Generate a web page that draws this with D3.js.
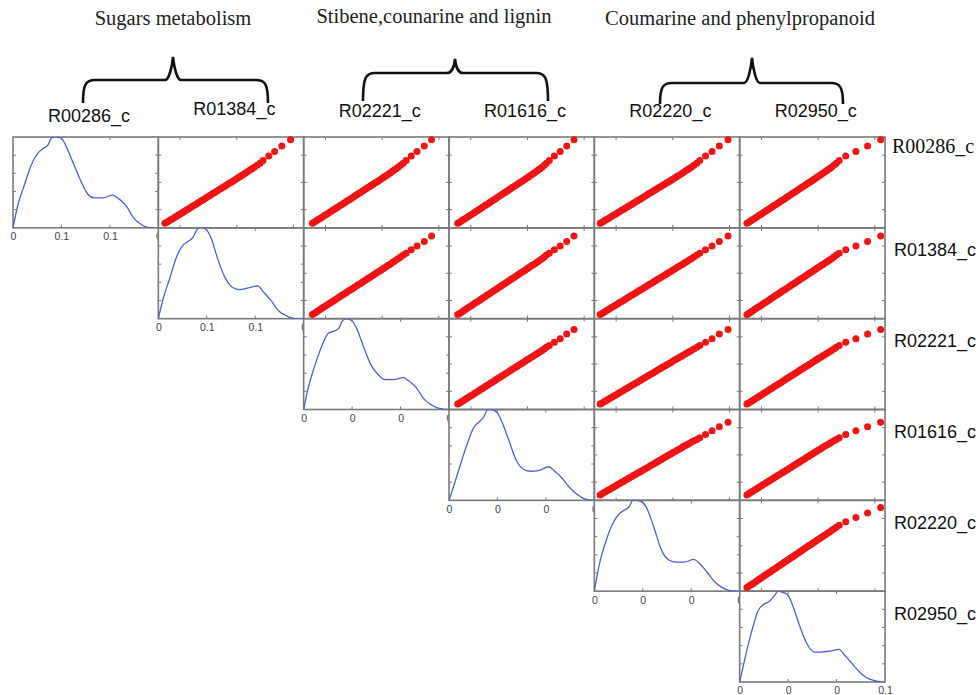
<!DOCTYPE html>
<html><head><meta charset="utf-8">
<script src="https://cdn.jsdelivr.net/npm/d3@7"></script>
<style>body{margin:0;background:#fff}svg{display:block}</style>
</head><body>
<svg id="c" width="979" height="695"></svg>
<script>
// ---------------- DATA ----------------
const variables = ["R00286_c","R01384_c","R02221_c","R01616_c","R02220_c","R02950_c"];
const groupNames = ["Sugars metabolism","Stibene,counarine and lignin","Coumarine and phenylpropanoid"];
const groupCols = [[0,1],[2,3],[4,5]];

// scaled expression values per variable (sample order shared)
const vR00286 = [0.05,0.062,0.074,0.088,0.1,0.113,0.127,0.14,0.152,0.166,0.18,0.193,0.205,0.219,0.232,0.246,0.258,0.271,0.285,0.298,0.31,0.324,0.338,0.35,0.363,0.377,0.39,0.402,0.416,0.43,0.443,0.455,0.469,0.482,0.495,0.508,0.521,0.535,0.548,0.562,0.575,0.59,0.604,0.62,0.636,0.65,0.668,0.69,0.71,0.74,0.79,0.84,0.9,0.97];
const vR01384 = [0.045,0.058,0.072,0.085,0.098,0.112,0.125,0.138,0.151,0.165,0.178,0.19,0.204,0.217,0.23,0.243,0.257,0.27,0.282,0.296,0.309,0.322,0.335,0.349,0.362,0.375,0.388,0.401,0.414,0.428,0.441,0.454,0.467,0.48,0.494,0.507,0.52,0.533,0.547,0.56,0.573,0.587,0.6,0.615,0.63,0.645,0.66,0.68,0.7,0.72,0.76,0.8,0.85,0.91];
const vR02221 = [0.06,0.072,0.085,0.097,0.11,0.123,0.136,0.148,0.161,0.174,0.187,0.199,0.212,0.225,0.238,0.25,0.263,0.276,0.289,0.301,0.314,0.327,0.34,0.352,0.365,0.378,0.391,0.403,0.416,0.429,0.442,0.454,0.467,0.48,0.493,0.505,0.518,0.531,0.544,0.556,0.569,0.582,0.595,0.608,0.622,0.636,0.65,0.667,0.685,0.705,0.74,0.78,0.83,0.88];
const vR01616 = [0.06,0.073,0.085,0.098,0.11,0.123,0.135,0.148,0.16,0.173,0.185,0.198,0.21,0.223,0.235,0.248,0.26,0.273,0.285,0.298,0.31,0.323,0.335,0.348,0.36,0.373,0.385,0.398,0.41,0.423,0.435,0.448,0.46,0.473,0.485,0.498,0.51,0.523,0.535,0.548,0.56,0.573,0.586,0.6,0.613,0.627,0.64,0.655,0.67,0.69,0.725,0.765,0.81,0.86];
const vR02220 = [0.04,0.053,0.067,0.08,0.094,0.107,0.121,0.134,0.148,0.161,0.175,0.188,0.202,0.215,0.229,0.242,0.256,0.269,0.283,0.296,0.31,0.323,0.337,0.35,0.364,0.377,0.391,0.404,0.418,0.431,0.445,0.458,0.472,0.485,0.499,0.512,0.526,0.539,0.553,0.566,0.58,0.594,0.608,0.622,0.637,0.652,0.667,0.685,0.705,0.725,0.765,0.81,0.86,0.92];
const vR02950 = [0.05,0.062,0.075,0.087,0.1,0.112,0.125,0.137,0.15,0.162,0.175,0.187,0.2,0.212,0.225,0.237,0.25,0.262,0.275,0.287,0.3,0.312,0.325,0.337,0.35,0.362,0.375,0.387,0.4,0.412,0.425,0.437,0.45,0.462,0.475,0.487,0.5,0.512,0.525,0.537,0.55,0.563,0.576,0.59,0.604,0.618,0.632,0.648,0.665,0.685,0.73,0.8,0.88,0.97];
const values = [vR00286, vR01384, vR02221, vR01616, vR02220, vR02950];

// kernel density curves (diagonal panels)
const densityX = [0,0.035,0.08,0.125,0.17,0.205,0.24,0.265,0.29,0.33,0.365,0.41,0.46,0.515,0.56,0.62,0.685,0.72,0.78,0.825,0.87,0.915,0.96,1.0];
const dR00286 = [0,0.26,0.48,0.69,0.82,0.87,0.91,0.99,1.0,0.99,0.9,0.73,0.54,0.37,0.33,0.33,0.36,0.33,0.24,0.12,0.05,0.01,0,0];
const dR01384 = [0,0.23,0.45,0.68,0.81,0.85,0.9,0.98,1.01,0.98,0.88,0.65,0.45,0.34,0.32,0.34,0.36,0.3,0.19,0.09,0.04,0.01,0,0];
const dR02221 = [0,0.26,0.5,0.7,0.84,0.86,0.89,0.97,1.0,0.98,0.89,0.7,0.5,0.38,0.33,0.33,0.35,0.32,0.23,0.12,0.06,0.02,0.005,0];
const dR01616 = [0,0.17,0.4,0.62,0.8,0.86,0.92,1.0,1.0,0.97,0.86,0.67,0.45,0.34,0.32,0.33,0.37,0.33,0.24,0.15,0.08,0.03,0.005,0];
const dR02220 = [0,0.3,0.55,0.74,0.85,0.89,0.93,1.0,1.0,0.98,0.9,0.7,0.46,0.34,0.32,0.32,0.35,0.31,0.2,0.11,0.05,0.015,0,0];
const dR02950 = [0,0.25,0.54,0.78,0.86,0.89,0.95,1.0,0.99,0.96,0.84,0.63,0.43,0.33,0.33,0.34,0.36,0.3,0.19,0.11,0.05,0.02,0.005,0];
const densities = [dR00286, dR01384, dR02221, dR01616, dR02220, dR02950];

// diagonal x-axis tick values and labels
const tickValues = [0,0.333,0.667,1];
const tickLabels = [["0","0.1","0.1","0"],["0","0.1","0.1","0"],["0","0","0","0"],["0","0","0","0"],["0","0","0","0"],["0","0","0","0.1"]];

// ---------------- LAYOUT ----------------
const svg = d3.select("#c");
const L = 13, T = 137, cw = (885-13)/6, ch = (682-137)/6;
const frameColor = "#7a7a7a";
const sans = "'Liberation Sans', Arial, sans-serif";
const serif = "'Liberation Serif', 'Times New Roman', serif";

// group titles
const titleX = [173, 434, 740], titleY = [25, 23, 25];
svg.selectAll("text.gt").data(groupNames).join("text").attr("class","gt")
  .attr("x",(d,i)=>titleX[i]).attr("y",(d,i)=>titleY[i]).attr("text-anchor","middle")
  .attr("font-family",serif).attr("font-size",20.5).attr("fill","#222").text(d=>d);

// braces
const braceGeom = [
  {x0:83, x1:268, peak:173, yb:103, yh:80, ytip:57},
  {x0:363, x1:548, peak:455, yb:101, yh:73, ytip:59},
  {x0:660, x1:843, peak:752, yb:104, yh:83, ytip:58}
];
function bracePath(b){
  const r = 12;
  return `M${b.x0},${b.yb} C${b.x0},${b.yh+4} ${b.x0+3},${b.yh} ${b.x0+r},${b.yh}`+
    ` L${b.peak-8},${b.yh} C${b.peak-4},${b.yh} ${b.peak-1},${b.ytip+10} ${b.peak},${b.ytip}`+
    ` C${b.peak+1},${b.ytip+10} ${b.peak+4},${b.yh} ${b.peak+8},${b.yh}`+
    ` L${b.x1-r},${b.yh} C${b.x1-3},${b.yh} ${b.x1},${b.yh+4} ${b.x1},${b.yb}`;
}
svg.selectAll("path.brace").data(braceGeom).join("path").attr("class","brace")
  .attr("d",bracePath).attr("fill","none").attr("stroke","#111").attr("stroke-width",2.6);

// column headers
const headDy = [122,115,117,117,117,117];
svg.selectAll("text.ch").data(variables).join("text").attr("class","ch")
  .attr("x",(d,i)=>L+i*cw+35).attr("y",(d,i)=>headDy[i])
  .attr("font-family",sans).attr("font-size",18).attr("fill","#111").text(d=>d);

// row labels (right)
svg.selectAll("text.rl").data(variables).join("text").attr("class","rl")
  .attr("x",(d,i)=>i===0?892:894).attr("y",(d,i)=>i===0?153:T+i*ch+28.5)
  .attr("font-family",(d,i)=>i===0?serif:sans).attr("font-size",(d,i)=>i===0?20:18)
  .attr("fill","#111").text(d=>d);

// diagonal tick labels (drawn first so later panels cover overflow)
variables.forEach((v,i)=>{
  const x = d3.scaleLinear().domain([0,1]).range([L+i*cw, L+(i+1)*cw]);
  const ax = d3.axisBottom(x).tickValues(tickValues).tickSize(0).tickPadding(5)
    .tickFormat((d,k)=>tickLabels[i][k]);
  const g = svg.append("g").attr("transform",`translate(0,${T+(i+1)*ch})`).call(ax);
  g.select(".domain").remove();
  g.selectAll("text").attr("font-family",sans).attr("font-size",10.5).attr("fill","#444");
});

const defs = svg.append("defs");
const line = d3.line().curve(d3.curveMonotoneX);

function frame(g, x0, y0, xt, yt){
  g.append("rect").attr("x",x0).attr("y",y0).attr("width",cw).attr("height",ch)
    .attr("fill","none").attr("stroke",frameColor).attr("stroke-width",1.6);
  const tk = 3;
  xt.forEach(f=>{
    const x = x0+f*cw;
    g.append("line").attr("x1",x).attr("x2",x).attr("y1",y0).attr("y2",y0+tk).attr("stroke",frameColor);
    g.append("line").attr("x1",x).attr("x2",x).attr("y1",y0+ch).attr("y2",y0+ch-tk).attr("stroke",frameColor);
  });
  yt.forEach(f=>{
    const y = y0+f*ch;
    g.append("line").attr("x1",x0).attr("x2",x0+tk).attr("y1",y).attr("y2",y).attr("stroke",frameColor);
    g.append("line").attr("x1",x0+cw).attr("x2",x0+cw-tk).attr("y1",y).attr("y2",y).attr("stroke",frameColor);
  });
}

// panels: white backgrounds first
for(let r=0;r<6;r++){
  for(let c=r;c<6;c++){
    const x0 = L+c*cw, y0 = T+r*ch;
    svg.append("rect").attr("x",x0).attr("y",y0).attr("width",cw).attr("height",ch).attr("fill","#fff");
  }
}
// frames
for(let r=0;r<6;r++){
  for(let c=r;c<6;c++){
    const x0 = L+c*cw, y0 = T+r*ch;
    const g = svg.append("g");
    if(r===c) frame(g,x0,y0,[0.333,0.667],[0.2,0.4,0.6,0.8]);
    else frame(g,x0,y0,[0.15,0.54,0.93],[0.2,0.5,0.8]);
  }
}
// content
for(let r=0;r<6;r++){
  for(let c=r;c<6;c++){
    const x0 = L+c*cw, y0 = T+r*ch;
    const x = d3.scaleLinear().domain([0,1]).range([x0, x0+cw]);
    const y = d3.scaleLinear().domain([0,1]).range([y0+ch, y0]);
    if(r===c){
      const id = "clip"+r;
      defs.append("clipPath").attr("id",id).append("rect")
        .attr("x",x0).attr("y",y0).attr("width",cw+3).attr("height",ch);
      const pts = densityX.map((dx,k)=>[x(dx), y(densities[r][k])]);
      svg.append("path").attr("clip-path",`url(#${id})`).attr("d",line(pts))
        .attr("fill","none").attr("stroke","#4d5fd6").attr("stroke-width",1.3);
    } else {
      const xs = values[c], ys = values[r];
      const n = Math.min(xs.length, ys.length);
      svg.append("g").selectAll("circle").data(d3.range(n)).join("circle")
        .attr("cx",k=>x(xs[k])).attr("cy",k=>y(ys[k])).attr("r",3.5)
        .attr("fill","#f01414");
    }
  }
}
</script>
</body></html>
